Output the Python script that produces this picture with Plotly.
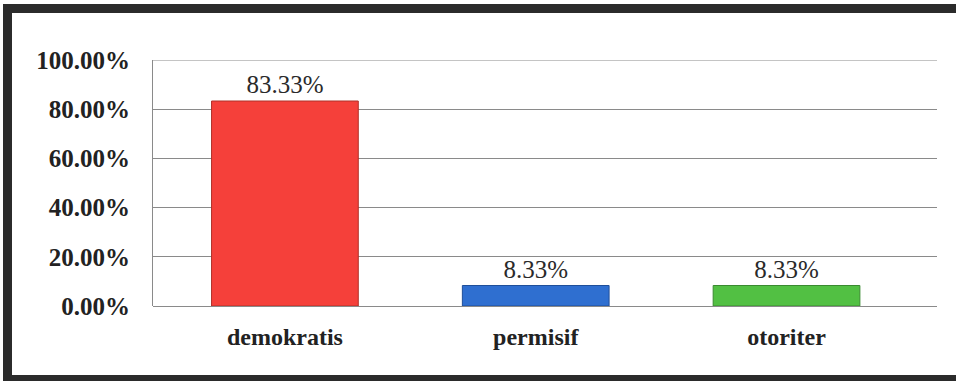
import plotly.graph_objects as go

categories = ["demokratis", "permisif", "otoriter"]
values = [83.33, 8.33, 8.33]
labels = ["83.33%", "8.33%", "8.33%"]
colors = ["#F5403A", "#2F6FD0", "#52C043"]
line_colors = ["#B03028", "#1F4F9A", "#3A8A30"]
y_ticks = [0, 20, 40, 60, 80, 100]
y_tick_text = ["0.00%", "20.00%", "40.00%", "60.00%", "80.00%", "100.00%"]

font = "Liberation Serif"
label_font = dict(family=font, size=25, color="#2a2a2a")

fig = go.Figure()
fig.add_trace(go.Bar(
    x=categories, y=values,
    marker=dict(color=colors, line=dict(color=line_colors, width=1)),
    width=0.585,
    text=labels, textposition="outside", cliponaxis=False,
    textfont=label_font, outsidetextfont=label_font,
))

fig.update_layout(
    width=956, height=381,
    margin=dict(l=153, r=19, t=60, b=75),
    paper_bgcolor="white", plot_bgcolor="white",
    showlegend=False,
    font=dict(family=font),
    xaxis=dict(
        range=[-0.526, 2.6],
        showgrid=False, showline=False, zeroline=False,
        tickfont=dict(family=font, size=24, color="#222222", weight="bold"),
        ticks="", ticklabelstandoff=14,
    ),
    yaxis=dict(
        range=[0, 100],
        tickvals=y_ticks, ticktext=y_tick_text,
        showgrid=True, gridcolor="#8a8a8a", gridwidth=1,
        showline=True, linecolor="#8a8a8a", linewidth=1,
        zeroline=True, zerolinecolor="#8a8a8a", zerolinewidth=1,
        tickfont=dict(family=font, size=25, color="#222222", weight="bold"),
        ticks="", ticklabelstandoff=17,
    ),
)

# top gridline at 100%
fig.add_shape(type="line", xref="paper", yref="y", x0=0, x1=1, y0=y_ticks[-1], y1=y_ticks[-1],
              line=dict(color="#8a8a8a", width=1), layer="below")

# outer frame (left, top, bottom)
W, H = 784, 246
def px(x):
    return (x - 153) / W
def py(y):
    return (306 - y) / H
frame = "#2b2b2b"
fig.add_shape(type="line", xref="paper", yref="paper", x0=px(7.5), x1=px(7.5), y0=py(4), y1=py(381),
              line=dict(color=frame, width=9))
fig.add_shape(type="line", xref="paper", yref="paper", x0=px(3), x1=px(956), y0=py(8.5), y1=py(8.5),
              line=dict(color=frame, width=9))
fig.add_shape(type="line", xref="paper", yref="paper", x0=px(3), x1=px(956), y0=py(378.5), y1=py(378.5),
              line=dict(color=frame, width=7))

fig.write_html("out.html")
